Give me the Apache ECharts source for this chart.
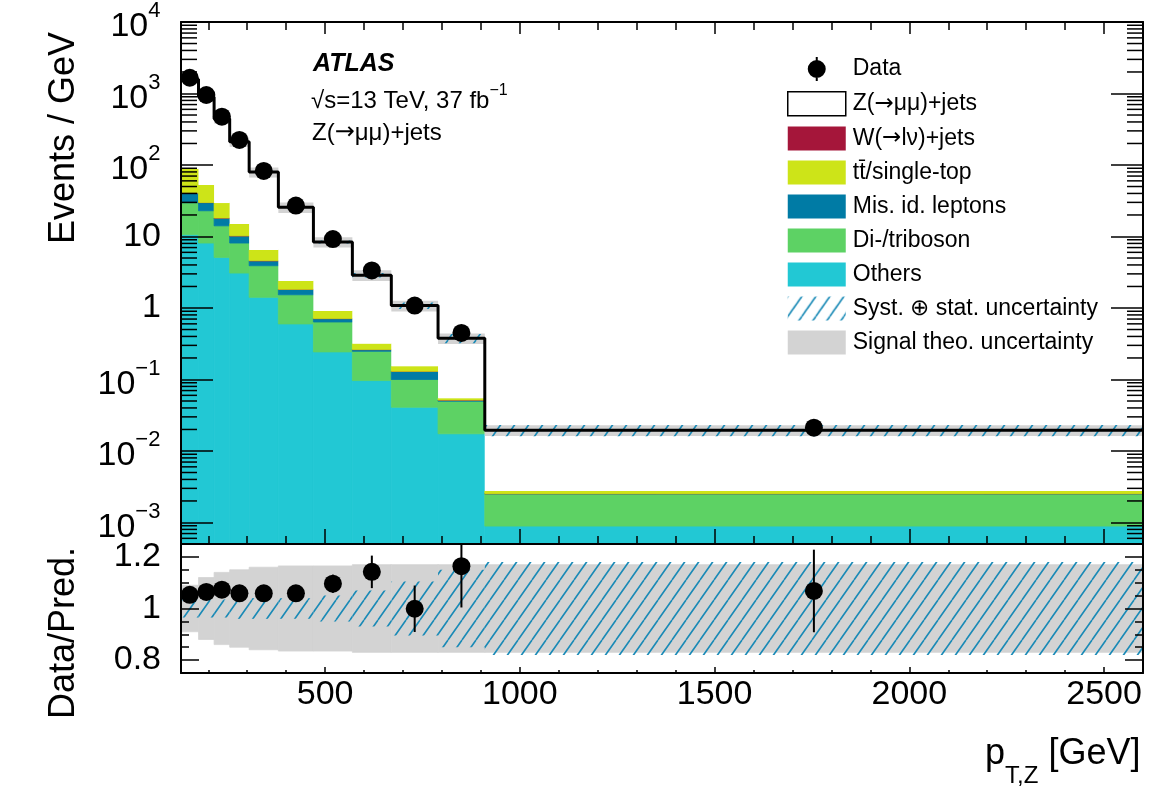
<!DOCTYPE html>
<html>
<head>
<meta charset="utf-8">
<script src="https://cdn.jsdelivr.net/npm/echarts@6/dist/echarts.min.js"></script>
<style>
  html, body { margin: 0; padding: 0; background: #fff; }
  #main { width: 1154px; height: 792px; }
</style>
</head>
<body>
<div id="main"></div>
<script>
// p_T,Z bin edges [GeV]
const binEdges = [130, 175, 215, 255, 305, 380, 470, 570, 670, 790, 910, 2600];

// events / GeV, one value per bin
const dataVals = [1660, 953, 474, 224, 82.7, 27.1, 9.2, 3.35, 1.08, 0.448, 0.0212];
const zjets = [1488, 843, 413, 196.5, 73, 23.2, 7.48, 2.56, 0.927, 0.322, 0.0168];
const wjets = [0.1, 0.05, 0.03, 0.01, 0.005, 0.002, 0.0008, 0.0003, 0.0001, 0.00005, 0.000002];
const ttbar = [47.2, 22.85, 11.17, 4.79, 1.9, 0.558, 0.197, 0.055, 0.023, 0.0033, 0.00022];
const misid = [11.1, 6.9, 4.0, 2.1, 0.68, 0.29, 0.073, 0.014, 0.03, 0.0018, 0.00001];
const diboson = [19.0, 14.8, 9.0, 5.02, 2.49, 0.932, 0.394, 0.151, 0.059, 0.0322, 0.00163];
const others = [10.6, 8.1, 5.1, 3.08, 1.41, 0.598, 0.243, 0.0966, 0.0409, 0.0174, 0.00089];

// lower panel
const ratioVals = [1.053, 1.064, 1.073, 1.059, 1.059, 1.059, 1.096, 1.142, 0.999, 1.164, 1.068];
const ratioErr = [0.006, 0.007, 0.008, 0.01, 0.012, 0.02, 0.035, 0.063, 0.09, 0.16, 0.16];
const systUnc = [0.035, 0.035, 0.035, 0.04, 0.04, 0.04, 0.05, 0.07, 0.105, 0.15, 0.18];
const theoUnc = [0.09, 0.12, 0.14, 0.15, 0.16, 0.165, 0.165, 0.17, 0.17, 0.17, 0.17];

const xTickLabels = [500, 1000, 1500, 2000, 2500];

const fontFamily = '"Liberation Sans", Arial, Helvetica, sans-serif';
const arrowFont = '"DejaVu Sans", sans-serif';
const xMin = 130, xMax = 2600;
const yMin = 5e-4, yMax = 1e4;
const rMin = 0.75, rMax = 1.25;

const chart = echarts.init(document.getElementById('main'));

// hatch fill for the syst+stat band
function makeHatch() {
  const c = document.createElement('canvas');
  c.width = 14;
  c.height = 20;
  const ctx = c.getContext('2d');
  ctx.strokeStyle = '#1a8ab6';
  ctx.lineWidth = 1.6;
  ctx.beginPath();
  ctx.moveTo(0, 20); ctx.lineTo(14, 0);
  ctx.moveTo(-14, 20); ctx.lineTo(0, 0);
  ctx.moveTo(14, 20); ctx.lineTo(28, 0);
  ctx.stroke();
  return c;
}
const hatch = { image: makeHatch(), repeat: 'repeat' };

const zName = 'Z(\u2192\u03bc\u03bc)+jets';
const wName = 'W(\u2192l\u03bd)+jets';
const ttName = 't\u0074\u0304/single-top';

const stackDefs = [
  { name: 'Others', vals: others, color: '#22c8d4' },
  { name: 'Di-/triboson', vals: diboson, color: '#5dd264' },
  { name: 'Mis. id. leptons', vals: misid, color: '#007ba5' },
  { name: wName, vals: wjets, color: '#a5163a' },
  { name: ttName, vals: ttbar, color: '#cde418' },
  { name: zName, vals: zjets, color: '#ffffff' }
];
let base = zjets.map(() => 0);
stackDefs.forEach((s) => {
  s.lo = base.slice();
  base = base.map((b, i) => b + s.vals[i]);
  s.hi = base.slice();
});
const total = base;
const centers = binEdges.slice(0, -1).map((e, i) => (e + binEdges[i + 1]) / 2);

// rect per bin, [xlo, xhi, ylo, yhi]
function binRects(name, xi, yi, rows, fill, z, seam) {
  return {
    name: name,
    type: 'custom',
    xAxisIndex: xi,
    yAxisIndex: yi,
    z: z,
    silent: true,
    clip: true,
    itemStyle: { color: fill },
    encode: { x: [0, 1], y: [2, 3] },
    data: rows,
    renderItem: (params, api) => {
      const p1 = api.coord([api.value(0), api.value(3)]);
      const p2 = api.coord([api.value(1), api.value(2)]);
      const style = { fill: fill };
      if (seam) {
        style.stroke = fill;
        style.lineWidth = 0.8;
      }
      return {
        type: 'rect',
        shape: { x: p1[0], y: p1[1], width: p2[0] - p1[0], height: p2[1] - p1[1] },
        style: style
      };
    }
  };
}

function errBars(xi, yi, rows) {
  return {
    type: 'custom',
    xAxisIndex: xi,
    yAxisIndex: yi,
    z: 6,
    silent: true,
    clip: true,
    encode: { x: 0, y: [1, 2] },
    data: rows,
    renderItem: (params, api) => {
      const a = api.coord([api.value(0), api.value(1)]);
      const b = api.coord([api.value(0), api.value(2)]);
      return {
        type: 'line',
        shape: { x1: a[0], y1: a[1], x2: b[0], y2: b[1] },
        style: { stroke: '#000', lineWidth: 2 }
      };
    }
  };
}

// log minor ticks 2..9 per decade
const logMinor = [];
for (let k = -4; k < 4; k++) {
  for (let m = 2; m <= 9; m++) {
    const v = +(m * Math.pow(10, k)).toPrecision(3);
    if (v > yMin * 1.001 && v < yMax) logMinor.push(v);
  }
}

const series = [];
stackDefs.forEach((s) => {
  series.push(binRects(s.name, 0, 0,
    s.vals.map((v, i) => [binEdges[i], binEdges[i + 1], Math.max(s.lo[i], yMin), s.hi[i]]),
    s.color, 1, s.name !== zName));
});
series.push(binRects('Signal theo. uncertainty', 0, 0,
  total.map((t, i) => [binEdges[i], binEdges[i + 1], t * (1 - theoUnc[i]), t * (1 + theoUnc[i])]),
  '#d3d3d3', 2, false));
series.push(binRects('Syst. \u2295 stat. uncertainty', 0, 0,
  total.map((t, i) => [binEdges[i], binEdges[i + 1], t * (1 - systUnc[i]), t * (1 + systUnc[i])]),
  hatch, 3, false));
series.push({
  name: 'total',
  type: 'line',
  xAxisIndex: 0,
  yAxisIndex: 0,
  z: 4,
  step: 'end',
  symbol: 'none',
  silent: true,
  lineStyle: { color: '#000', width: 3 },
  data: total.map((t, i) => [binEdges[i], t]).concat([[xMax, total[total.length - 1]]])
});
series.push(errBars(0, 0, dataVals.map((v, i) => {
  const e = v * ratioErr[i] / ratioVals[i];
  return [centers[i], v - e, v + e];
})));
series.push({
  name: 'Data',
  type: 'scatter',
  xAxisIndex: 0,
  yAxisIndex: 0,
  z: 7,
  symbol: 'circle',
  symbolSize: 18,
  itemStyle: { color: '#000', opacity: 1 },
  data: dataVals.map((v, i) => [centers[i], v])
});
series.push({
  type: 'custom',
  xAxisIndex: 0,
  yAxisIndex: 0,
  z: 20,
  silent: true,
  encode: { x: 0, y: 1 },
  data: logMinor.map((v) => [xMin, v]),
  renderItem: (params, api) => {
    const l = api.coord([xMin, api.value(1)]);
    const r = api.coord([xMax, api.value(1)]);
    return {
      type: 'group',
      children: [
        { type: 'line', shape: { x1: l[0], y1: l[1], x2: l[0] + 16, y2: l[1] }, style: { stroke: '#000', lineWidth: 1.5 } },
        { type: 'line', shape: { x1: r[0] - 16, y1: r[1], x2: r[0], y2: r[1] }, style: { stroke: '#000', lineWidth: 1.5 } }
      ]
    };
  }
});

// ratio panel
series.push(binRects('Signal theo. uncertainty', 2, 2,
  theoUnc.map((u, i) => [binEdges[i], binEdges[i + 1], 1 - u, 1 + u]), '#d3d3d3', 2, true));
series.push(binRects('Syst. \u2295 stat. uncertainty', 2, 2,
  systUnc.map((u, i) => [binEdges[i], binEdges[i + 1], 1 - u, 1 + u]), hatch, 3, false));
series.push(errBars(2, 2, ratioVals.map((v, i) => [centers[i], v - ratioErr[i], v + ratioErr[i]])));
series.push({
  name: 'Data',
  type: 'scatter',
  xAxisIndex: 2,
  yAxisIndex: 2,
  z: 7,
  symbol: 'circle',
  symbolSize: 18,
  itemStyle: { color: '#000', opacity: 1 },
  data: ratioVals.map((v, i) => [centers[i], v])
});

const lineBlack = { color: '#000', width: 2 };
const tickBlack = { color: '#000', width: 1.5 };

function xAxisCfg(grid, pos, tickLen, minorLen, labels) {
  return {
    gridIndex: grid,
    type: 'value',
    position: pos,
    min: xMin,
    max: xMax,
    z: 20,
    axisLine: { show: true, onZero: false, lineStyle: lineBlack },
    axisTick: { show: true, inside: true, length: tickLen, lineStyle: tickBlack },
    minorTick: { show: true, splitNumber: 5, length: minorLen, lineStyle: tickBlack },
    splitLine: { show: false },
    axisLabel: labels ? {
      show: true,
      margin: 5,
      color: '#000',
      fontSize: 34,
      fontFamily: fontFamily,
      showMinLabel: false,
      showMaxLabel: false,
      formatter: (v) => (xTickLabels.indexOf(v) >= 0 ? String(v) : '')
    } : { show: false }
  };
}

function logLabel(v) {
  const e = Math.round(Math.log10(v));
  if (e === 0) return '{m|1}';
  if (e === 1) return '{m|10}';
  return '{b|10}{s|' + (e < 0 ? '\u2212' + (-e) : e) + '}{h| }';
}

function logAxis(pos, labels) {
  return {
    gridIndex: 0,
    type: 'log',
    logBase: 10,
    position: pos,
    min: yMin,
    max: yMax,
    z: 20,
    axisLine: { show: true, onZero: false, lineStyle: lineBlack },
    axisTick: { show: true, inside: true, length: 32, lineStyle: tickBlack },
    minorTick: { show: false },
    splitLine: { show: false },
    axisLabel: labels ? {
      show: true,
      margin: 20,
      color: '#000',
      showMinLabel: false,
      formatter: logLabel,
      rich: {
        m: { fontSize: 34, fontFamily: fontFamily, color: '#000' },
        b: { fontSize: 34, lineHeight: 34, fontFamily: fontFamily, color: '#000', verticalAlign: 'bottom' },
        s: { fontSize: 22, lineHeight: 36, fontFamily: fontFamily, color: '#000', verticalAlign: 'top' },
        h: { fontSize: 2, lineHeight: 44 }
      }
    } : { show: false }
  };
}

function ratioAxis(pos, labels) {
  return {
    gridIndex: 1,
    type: 'value',
    position: pos,
    min: rMin,
    max: rMax,
    splitNumber: 3,
    z: 20,
    axisLine: { show: true, onZero: false, lineStyle: lineBlack },
    axisTick: { show: true, inside: true, length: 18, lineStyle: tickBlack },
    minorTick: { show: true, splitNumber: 4, length: 8, lineStyle: tickBlack },
    splitLine: { show: false },
    axisLabel: labels ? {
      show: true,
      margin: 20,
      color: '#000',
      fontSize: 34,
      fontFamily: fontFamily,
      showMinLabel: false,
      showMaxLabel: false,
      formatter: (v) => (Math.abs(v - 1) < 1e-9 ? '1' : v.toFixed(1))
    } : { show: false }
  };
}

// legend text with a wider arrow glyph
function legendText(name) {
  const parts = name.split('\u2192');
  if (parts.length === 1) return '{t|' + name + '}';
  return '{t|' + parts[0] + '}{a|\u2192}{t|' + parts[1] + '}';
}

const dataIcon = 'path://M0 12 M58 12 M29 3 A9 9 0 1 1 29 21 A9 9 0 1 1 29 3 Z M28 0 L30 0 L30 24 L28 24 Z';

const option = {
  animation: false,
  backgroundColor: '#fff',
  grid: [
    { left: 181, right: 11, top: 22, height: 522, outerBoundsMode: 'none' },
    { left: 181, right: 11, top: 544, height: 129, outerBoundsMode: 'none' }
  ],
  xAxis: [
    xAxisCfg(0, 'bottom', 15, 8, false),
    xAxisCfg(0, 'top', 12, 8, false),
    xAxisCfg(1, 'bottom', 6, 3, true)
  ],
  yAxis: [
    logAxis('left', true),
    logAxis('right', false),
    ratioAxis('left', true),
    ratioAxis('right', false)
  ],
  legend: {
    orient: 'vertical',
    left: 782,
    top: 52,
    itemWidth: 58,
    itemHeight: 24,
    itemGap: 10,
    selectedMode: false,
    formatter: legendText,
    textStyle: {
      fontFamily: fontFamily,
      fontSize: 23,
      color: '#000',
      padding: [0, 0, 0, 2],
      rich: {
        t: { fontFamily: fontFamily, fontSize: 23, color: '#000' },
        a: { fontFamily: arrowFont, fontSize: 23, color: '#000' }
      }
    },
    data: [
      { name: 'Data', icon: dataIcon, itemStyle: { color: '#000', borderWidth: 0 } },
      { name: zName, icon: 'rect', itemStyle: { color: '#fff', borderColor: '#000', borderWidth: 1.5 } },
      { name: wName, icon: 'rect', itemStyle: { color: '#a5163a', borderWidth: 0 } },
      { name: ttName, icon: 'rect', itemStyle: { color: '#cde418', borderWidth: 0 } },
      { name: 'Mis. id. leptons', icon: 'rect', itemStyle: { color: '#007ba5', borderWidth: 0 } },
      { name: 'Di-/triboson', icon: 'rect', itemStyle: { color: '#5dd264', borderWidth: 0 } },
      { name: 'Others', icon: 'rect', itemStyle: { color: '#22c8d4', borderWidth: 0 } },
      { name: 'Syst. \u2295 stat. uncertainty', icon: 'rect', itemStyle: { color: hatch, borderWidth: 0 } },
      { name: 'Signal theo. uncertainty', icon: 'rect', itemStyle: { color: '#d3d3d3', borderWidth: 0 } }
    ]
  },
  graphic: [
    {
      type: 'text', x: 313, y: 64,
      style: { text: 'ATLAS', font: 'italic bold 25px ' + fontFamily, fill: '#000', verticalAlign: 'middle' }
    },
    {
      type: 'text', x: 311, y: 98,
      style: {
        text: '{t|\u221as=13 TeV, 37 fb}{s|\u22121}{h| }',
        verticalAlign: 'middle',
        rich: {
          t: { fontSize: 24, lineHeight: 24, fontFamily: fontFamily, fill: '#000', verticalAlign: 'bottom' },
          s: { fontSize: 16, lineHeight: 26, fontFamily: fontFamily, fill: '#000', verticalAlign: 'top' },
          h: { fontSize: 2, lineHeight: 30 }
        }
      }
    },
    {
      type: 'text', x: 312, y: 133,
      style: {
        text: '{t|Z(}{a|\u2192}{t|\u03bc\u03bc)+jets}',
        verticalAlign: 'middle',
        rich: {
          t: { fontSize: 24, fontFamily: fontFamily, fill: '#000' },
          a: { fontSize: 24, fontFamily: arrowFont, fill: '#000' }
        }
      }
    },
    {
      type: 'text', x: 64, y: 138, rotation: Math.PI / 2,
      style: { text: 'Events / GeV', font: '36px ' + fontFamily, fill: '#000', align: 'center', verticalAlign: 'middle' }
    },
    {
      type: 'text', x: 64, y: 633, rotation: Math.PI / 2,
      style: { text: 'Data/Pred.', font: '36px ' + fontFamily, fill: '#000', align: 'center', verticalAlign: 'middle' }
    },
    {
      type: 'text', x: 1141, y: 762,
      style: {
        text: '{p|p}{s|T,Z}{p| [GeV]}{h| }',
        align: 'right',
        verticalAlign: 'middle',
        rich: {
          p: { fontSize: 36, lineHeight: 36, fontFamily: fontFamily, fill: '#000', verticalAlign: 'top' },
          s: { fontSize: 24, lineHeight: 24, fontFamily: fontFamily, fill: '#000', verticalAlign: 'bottom' },
          h: { fontSize: 2, lineHeight: 52 }
        }
      }
    }
  ],
  series: series
};

chart.setOption(option);
</script>
</body>
</html>
